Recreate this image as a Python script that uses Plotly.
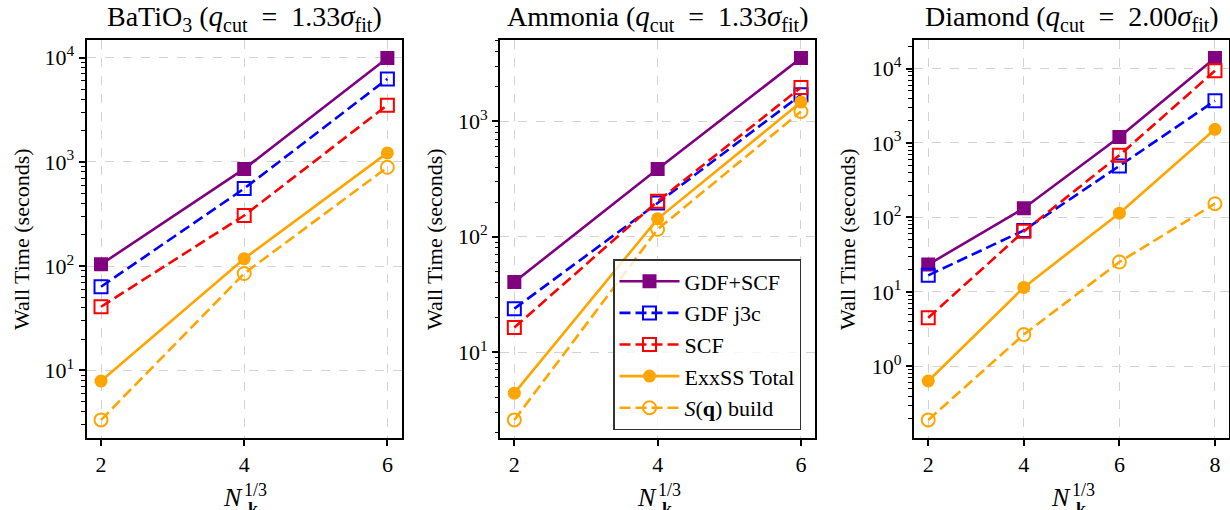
import plotly.graph_objects as go
import numpy as np

# ---------------- data ----------------
SUB = '<sub><span style="font-size:20px">%s</span></sub>'
MI = '<i><span style="font-size:29px">%s</span></i>'
titles = [
    "BaTiO" + SUB % "3" + " (" + MI % "q" + SUB % "cut" + "\u2002=\u20021.33" + MI % "σ" + SUB % "fit" + ")",
    "Ammonia (" + MI % "q" + SUB % "cut" + "\u2002=\u20021.33" + MI % "σ" + SUB % "fit" + ")",
    "Diamond (" + MI % "q" + SUB % "cut" + "\u2002=\u20022.00" + MI % "σ" + SUB % "fit" + ")",
]
series_names = ["GDF+SCF", "GDF j3c", "SCF", "ExxSS Total", "<i>S</i>(<b>q</b>) build"]

nk_batio3 = [2, 4, 6]
batio3_gdf_scf = [104, 857, 9900]
batio3_gdf_j3c = [63.5, 555, 6250]
batio3_scf = [40.8, 306, 3500]
batio3_exxss = [7.9, 118, 1220]
batio3_sq = [3.35, 85, 888]

nk_ammonia = [2, 4, 6]
ammonia_gdf_scf = [40.5, 387, 3540]
ammonia_gdf_j3c = [23.8, 196, 1700]
ammonia_scf = [16.3, 203, 1970]
ammonia_exxss = [4.4, 143, 1470]
ammonia_sq = [2.58, 116, 1220]

nk_diamond = [2, 4, 6, 8]
diamond_gdf_scf = [23.3, 133, 1200, 13800]
diamond_gdf_j3c = [16.7, 67, 492, 3690]
diamond_scf = [4.5, 65, 684, 9320]
diamond_exxss = [0.636, 11.5, 114, 1525]
diamond_sq = [0.191, 2.68, 25.2, 153]

x_ticks = [[2, 4, 6], [2, 4, 6], [2, 4, 6, 8]]
y_tick_exps = [[1, 2, 3, 4], [1, 2, 3], [0, 1, 2, 3, 4]]

panels = [
    (nk_batio3, [batio3_gdf_scf, batio3_gdf_j3c, batio3_scf, batio3_exxss, batio3_sq]),
    (nk_ammonia, [ammonia_gdf_scf, ammonia_gdf_j3c, ammonia_scf, ammonia_exxss, ammonia_sq]),
    (nk_diamond, [diamond_gdf_scf, diamond_gdf_j3c, diamond_scf, diamond_exxss, diamond_sq]),
]

# ---------------- styles ----------------
colors = ["#800080", "#0000ff", "#ff0000", "#ffa500", "#ffa500"]
symbols = ["square", "square-open", "square-open", "circle", "circle-open"]
dashes = ["solid", "11px,5px", "11px,5px", "solid", "11px,5px"]

FONT = "Liberation Serif"
W, H = 1230, 510
# plot-area pixel boxes (left, right) and (top, bottom)
xbox = [(86.7, 401.7), (500.0, 815.3), (913.9, 1229.3)]
ytop, ybot = 40, 438
ylabel_x = [21, 434, 847]


def px(xp, yp):
    return xp / W, 1 - yp / H


fig = go.Figure()

for i, (xs, ys_list) in enumerate(panels):
    ax = "" if i == 0 else str(i + 1)
    for j, ys in enumerate(ys_list):
        fig.add_trace(go.Scatter(
            x=xs, y=ys, mode="lines+markers",
            name=series_names[j],
            showlegend=(i == 0),
            line=dict(color=colors[j], width=2.6, dash=dashes[j]),
            marker=dict(symbol=symbols[j], size=14 if symbols[j] == "square" else 13,
                        color=colors[j],
                        line=dict(color=colors[j], width=2 if "open" in symbols[j] else 0)),
            xaxis="x" + ax, yaxis="y" + ax,
        ))

    # autoscale like matplotlib (5% margins)
    xmin, xmax = min(xs), max(xs)
    xr = xmax - xmin
    allv = np.log10(np.concatenate([np.array(v, dtype=float) for v in ys_list]))
    lmin, lmax = allv.min(), allv.max()
    lr = lmax - lmin

    exps = y_tick_exps[i]
    minor_vals = []
    for e in range(int(np.floor(lmin - 0.1)) - 1, int(np.ceil(lmax)) + 1):
        for m in range(2, 10):
            minor_vals.append(m * 10.0 ** e)

    common = dict(showline=True, linecolor="black", linewidth=2, mirror=True,
                  ticks="outside", ticklen=6, tickwidth=1.5, tickcolor="black",
                  showgrid=True, gridcolor="#d3d3d3", gridwidth=1, griddash="dash",
                  zeroline=False, tickfont=dict(family=FONT, size=22, color="black"))

    fig.update_layout(**{
        "xaxis" + ax: dict(
            domain=[xbox[i][0] / W, xbox[i][1] / W],
            range=[xmin - 0.05 * xr, xmax + 0.05 * xr],
            tickvals=x_ticks[i], ticktext=[str(t) for t in x_ticks[i]],
            anchor="y" + ax, **common),
        "yaxis" + ax: dict(
            domain=[1 - ybot / H, 1 - ytop / H],
            type="log",
            range=[lmin - 0.05 * lr, lmax + 0.05 * lr],
            tickvals=[10.0 ** e for e in exps],
            ticktext=["10<sup>%d</sup>" % e for e in exps],
            minor=dict(tickvals=minor_vals, ticks="outside", ticklen=3.5,
                       tickwidth=1, tickcolor="black", showgrid=False),
            anchor="x" + ax, **common),
    })

    cxp = (xbox[i][0] + xbox[i][1]) / 2
    cx = cxp / W
    fig.add_annotation(text=titles[i], x=cx, y=1 - 18 / H, xref="paper", yref="paper",
                       showarrow=False, xanchor="center", yanchor="middle",
                       font=dict(family=FONT, size=28, color="black"))
    # x-axis label N_k^{1/3} (sub/superscript stacked)
    ax_, ay_ = px(cxp - 11, 497)
    fig.add_annotation(text="<i>N</i>", x=ax_, y=ay_, xref="paper", yref="paper",
                       showarrow=False, xanchor="center", yanchor="middle",
                       font=dict(family=FONT, size=26, color="black"))
    ax_, ay_ = px(cxp + 2, 509)
    fig.add_annotation(text="<b>k</b>", x=ax_, y=ay_, xref="paper", yref="paper",
                       showarrow=False, xanchor="left", yanchor="middle",
                       font=dict(family=FONT, size=18, color="black"))
    ax_, ay_ = px(cxp - 2, 490)
    fig.add_annotation(text="1/3", x=ax_, y=ay_, xref="paper", yref="paper",
                       showarrow=False, xanchor="left", yanchor="middle",
                       font=dict(family=FONT, size=18, color="black"))
    fig.add_annotation(text="Wall Time (seconds)", x=ylabel_x[i] / W,
                       y=1 - (ytop + ybot) / 2 / H, xref="paper", yref="paper",
                       showarrow=False, textangle=-90, xanchor="center", yanchor="middle",
                       font=dict(family=FONT, size=22, color="black"))

fig.update_layout(
    width=W, height=H,
    margin=dict(l=0, r=0, t=0, b=0),
    paper_bgcolor="white", plot_bgcolor="white",
    showlegend=True,
    legend=dict(x=613 / W, y=1 - 259 / H, xanchor="left", yanchor="top",
                bgcolor="rgba(255,255,255,0.8)", bordercolor="#333333", borderwidth=1.5,
                font=dict(family=FONT, size=22, color="black"),
                itemwidth=60),
)

fig.write_html("out.html", config={"displayModeBar": False},
               post_script="document.body.style.margin='0';document.body.style.overflow='hidden';")
